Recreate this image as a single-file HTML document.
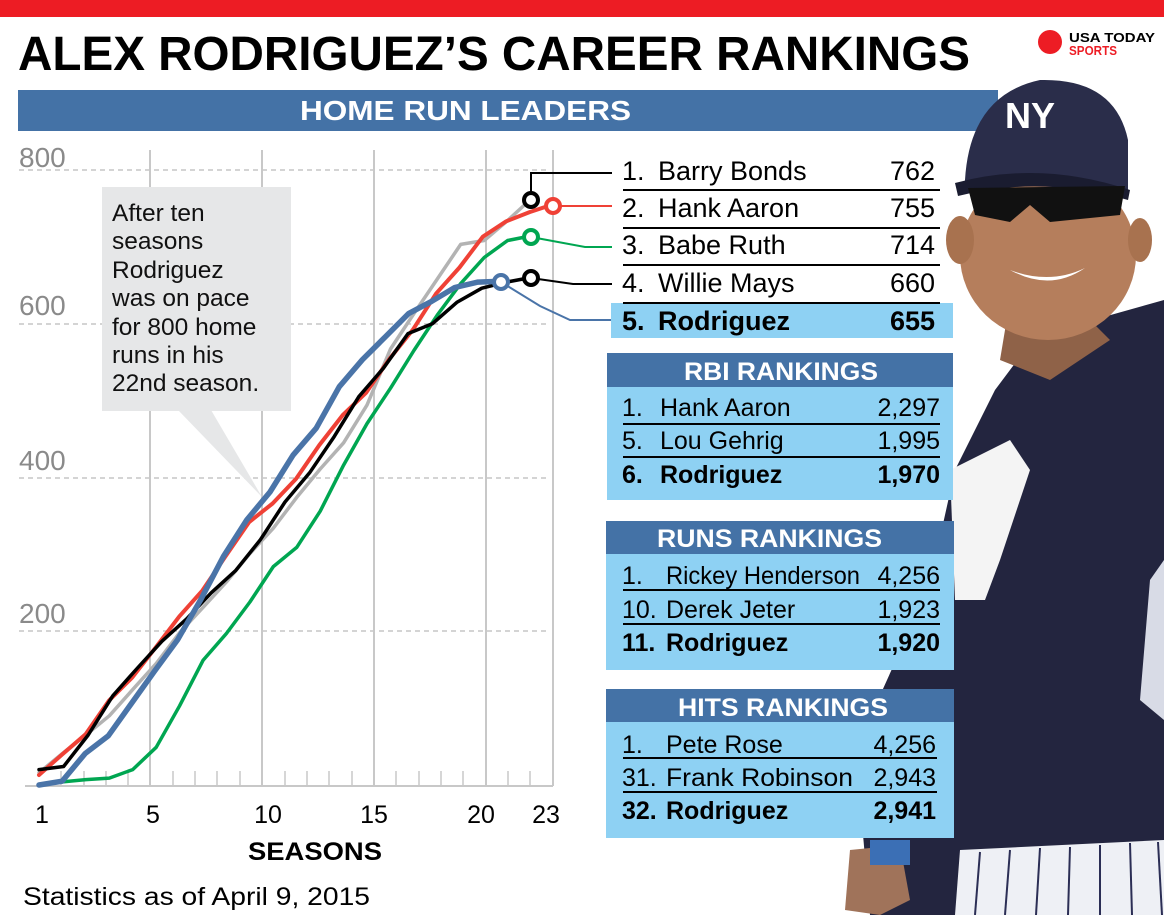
<!DOCTYPE html>
<html><head><meta charset="utf-8"><style>
html,body{margin:0;padding:0;background:#fff;}
svg{display:block;}
text{font-family:"Liberation Sans",sans-serif;}
</style></head><body>
<svg width="1164" height="915" viewBox="0 0 1164 915" xmlns="http://www.w3.org/2000/svg">
<rect x="0" y="0" width="1164" height="17" fill="#ed1c24"/>
<text x="18" y="70" font-size="48" font-weight="bold" textLength="952" lengthAdjust="spacingAndGlyphs">ALEX RODRIGUEZ’S CAREER RANKINGS</text>
<circle cx="1050" cy="42" r="12" fill="#ed1c24"/>
<text x="1069" y="42" font-size="13" font-weight="bold" textLength="86" lengthAdjust="spacingAndGlyphs">USA TODAY</text>
<text x="1069" y="55" font-size="13" font-weight="bold" fill="#ed1c24" textLength="48" lengthAdjust="spacingAndGlyphs">SPORTS</text>
<rect x="18" y="90" width="980" height="41" fill="#4472a6"/>
<text x="300" y="120" font-size="28" font-weight="bold" fill="#fff" textLength="331" lengthAdjust="spacingAndGlyphs">HOME RUN LEADERS</text>

<!-- photo approximation -->
<path d="M1164 300 L1100 318 L1040 330 L995 390 L955 470 L935 560 L905 640 L878 700 L860 800 L870 915 L1164 915 Z" fill="#23253f"/>
<path d="M960 850 L1164 840 L1164 915 L955 915 Z" fill="#eef0f5"/>
<g stroke="#2b2e55" stroke-width="2">
<line x1="980" y1="852" x2="975" y2="915"/><line x1="1010" y1="850" x2="1005" y2="915"/><line x1="1040" y1="848" x2="1036" y2="915"/><line x1="1070" y1="847" x2="1068" y2="915"/><line x1="1100" y1="845" x2="1100" y2="915"/><line x1="1130" y1="843" x2="1132" y2="915"/><line x1="1158" y1="842" x2="1162" y2="915"/></g>
<path d="M1150 580 L1164 560 L1164 720 L1140 700 Z" fill="#d8dbe6"/>
<path d="M950 470 L1010 440 L1030 470 L1000 560 L985 600 L955 600 Z" fill="#f4f4f4"/>
<path d="M850 850 L900 845 L910 900 L880 915 L845 910 Z" fill="#a0735a"/>
<rect x="870" y="840" width="40" height="25" fill="#3b6fb5"/>
<path d="M1010 300 L1080 310 L1110 340 L1050 380 L1000 360 Z" fill="#8f6248"/>
<ellipse cx="1048" cy="255" rx="88" ry="85" fill="#b57e5c"/>
<ellipse cx="960" cy="240" rx="14" ry="24" fill="#a8724f"/>
<ellipse cx="1140" cy="240" rx="12" ry="22" fill="#a8724f"/>
<path d="M965 180 Q970 95 1040 80 Q1115 78 1128 140 L1128 195 Q1050 170 963 190 Z" fill="#2a2d4a"/>
<path d="M955 183 Q1040 160 1130 190 L1128 200 Q1040 175 958 196 Z" fill="#1a1c30"/>
<text x="1005" y="128" font-size="36" font-weight="bold" fill="#fff">NY</text>
<path d="M968 188 L1125 186 L1120 215 L1050 222 L1030 205 L1010 222 L975 215 Z" fill="#111"/>
<path d="M1010 270 Q1050 285 1085 268 Q1050 292 1010 270 Z" fill="#fff"/>

<!-- chart grid -->
<g stroke="#bbb" stroke-width="1.3" stroke-dasharray="5,4">
<line x1="19" y1="170" x2="548" y2="170"/><line x1="19" y1="324" x2="548" y2="324"/>
<line x1="19" y1="478" x2="548" y2="478"/><line x1="19" y1="631" x2="548" y2="631"/></g>
<g stroke="#c8c8c8" stroke-width="2">
<line x1="150" y1="150" x2="150" y2="786"/><line x1="262" y1="150" x2="262" y2="786"/>
<line x1="374" y1="150" x2="374" y2="786"/><line x1="486" y1="150" x2="486" y2="786"/>
<line x1="553" y1="150" x2="553" y2="786"/>
<line x1="25" y1="786" x2="553" y2="786"/></g>
<g stroke="#c8c8c8" stroke-width="1.5">
<line x1="61" y1="771" x2="61" y2="786"/><line x1="84" y1="771" x2="84" y2="786"/><line x1="106" y1="771" x2="106" y2="786"/><line x1="128" y1="771" x2="128" y2="786"/>
<line x1="173" y1="771" x2="173" y2="786"/><line x1="195" y1="771" x2="195" y2="786"/><line x1="217" y1="771" x2="217" y2="786"/><line x1="240" y1="771" x2="240" y2="786"/>
<line x1="285" y1="771" x2="285" y2="786"/><line x1="307" y1="771" x2="307" y2="786"/><line x1="329" y1="771" x2="329" y2="786"/><line x1="352" y1="771" x2="352" y2="786"/>
<line x1="396" y1="771" x2="396" y2="786"/><line x1="419" y1="771" x2="419" y2="786"/><line x1="441" y1="771" x2="441" y2="786"/><line x1="463" y1="771" x2="463" y2="786"/>
<line x1="508" y1="771" x2="508" y2="786"/><line x1="530" y1="771" x2="530" y2="786"/></g>
<g font-size="28" fill="#8a8a8a">
<text x="19" y="167">800</text><text x="19" y="315">600</text><text x="19" y="470">400</text><text x="19" y="623">200</text></g>

<!-- callout -->
<rect x="102" y="187" width="189" height="224" fill="#e6e7e8"/>
<polygon points="178,410 211,410 262,497" fill="#e6e7e8"/>
<g font-size="24.5" fill="#111">
<text x="112" y="221">After ten</text><text x="112" y="249">seasons</text><text x="112" y="278">Rodriguez</text>
<text x="112" y="306">was on pace</text><text x="112" y="335">for 800 home</text><text x="112" y="363">runs in his</text>
<text x="112" y="391">22nd season.</text></g>

<!-- connectors -->
<g fill="none" stroke-width="2">
<polyline points="531,200 531,173 612,173" stroke="#000"/>
<polyline points="553,206 612,206" stroke="#ef4136"/>
<polyline points="531,237 585,247 612,247" stroke="#00a651"/>
<polyline points="531,278 573,284 612,284" stroke="#000"/>
<polyline points="501,282 540,306 570,320 612,320" stroke="#4a74a8"/>
</g>

<!-- series -->
<g fill="none" stroke-linejoin="round" stroke-linecap="round">
<polyline stroke="#b3b3b3" stroke-width="3.5" points="39,772.7 62.4,753.5 85.9,735 109.3,715.8 132.7,689.6 156.2,663.5 179.6,632.7 203,607.4 226.4,582 249.9,553.5 273.3,528.2 296.7,497.4 320.2,469 343.6,442.8 367,405.1 390.5,349 413.9,313.6 437.3,279 460.7,244.4 484.2,240.5 507.6,220.5 531,199"/>
<polyline stroke="#00a651" stroke-width="3.5" points="39,785 62.4,781.9 85.9,779.6 109.3,778.1 132.7,769.6 156.2,747.3 179.6,705.8 203,660.4 226.4,633.5 249.9,602 273.3,566.6 296.7,547.4 320.2,511.2 343.6,465.1 367,423.6 390.5,388.2 413.9,350.5 437.3,315.1 460.7,283.6 484.2,257.5 507.6,240.5 531,235.9"/>
<polyline stroke="#ef4136" stroke-width="4" points="39,775 62.4,754.2 85.7,734.2 109.1,700.4 132.4,677.3 155.8,647.3 179.2,616.6 202.5,590.4 225.9,555.8 249.2,522 272.6,503.5 296,478.9 319.3,445.1 342.7,415.1 366,392.8 389.4,359 412.8,329.8 436.1,293.6 459.5,267.5 482.8,236.7 506.2,221.3 529.6,212.1 553,204.4"/>
<polyline stroke="#000" stroke-width="3.5" points="39,769.6 63.6,766.5 88.2,735 112.8,695.8 137.4,668.1 162,641.2 186.6,618.9 211.2,592.8 235.8,570.4 260.4,539.7 285,502 309.6,472.8 334.2,436.6 358.8,396.7 383.4,368.2 408,333.6 432.6,323.6 457.2,302.1 481.8,288.2 506.4,282.1 531,277.5"/>
<polyline stroke="#4a74a8" stroke-width="5.5" points="39,785 62.1,781.2 85.2,753.5 108.3,735.8 131.4,703.5 154.5,671.2 177.6,639.7 200.7,599.7 223.8,555.8 246.9,519.7 270,492 293.1,455.1 316.2,428.2 339.3,386.7 362.4,359.7 385.5,336.7 408.6,313.6 431.7,301.3 454.8,287.5 477.9,282.1 501,281.3"/>
</g>
<g fill="#fff" stroke-width="4">
<circle cx="531" cy="200" r="7" stroke="#000"/>
<circle cx="553" cy="206" r="7" stroke="#ef4136"/>
<circle cx="531" cy="237" r="7" stroke="#00a651"/>
<circle cx="531" cy="278" r="7" stroke="#000"/>
<circle cx="501" cy="282" r="7" stroke="#4a74a8"/>
</g>

<g font-size="25" fill="#000" text-anchor="middle">
<text x="42" y="823">1</text><text x="153" y="823">5</text><text x="268" y="823">10</text>
<text x="374" y="823">15</text><text x="481" y="823">20</text><text x="546" y="823">23</text></g>
<text x="248" y="860" font-size="25" font-weight="bold" textLength="134" lengthAdjust="spacingAndGlyphs">SEASONS</text>
<text x="23" y="905" font-size="25" textLength="347" lengthAdjust="spacingAndGlyphs">Statistics as of April 9, 2015</text>

<!-- HR table -->
<rect x="611" y="303" width="342" height="35" fill="#8ed1f3"/>
<g stroke="#000" stroke-width="2">
<line x1="623" y1="190" x2="940" y2="190"/><line x1="623" y1="228" x2="940" y2="228"/>
<line x1="623" y1="265" x2="940" y2="265"/><line x1="623" y1="303" x2="940" y2="303"/></g>
<g font-size="27" fill="#000">
<text x="622" y="180">1.</text><text x="658" y="180">Barry Bonds</text><text x="935" y="180" text-anchor="end">762</text>
<text x="622" y="217">2.</text><text x="658" y="217">Hank Aaron</text><text x="935" y="217" text-anchor="end">755</text>
<text x="622" y="254">3.</text><text x="658" y="254">Babe Ruth</text><text x="935" y="254" text-anchor="end">714</text>
<text x="622" y="292">4.</text><text x="658" y="292">Willie Mays</text><text x="935" y="292" text-anchor="end">660</text>
<g font-weight="bold"><text x="622" y="330">5.</text><text x="658" y="330">Rodriguez</text><text x="935" y="330" text-anchor="end">655</text></g></g>

<!-- RBI -->
<rect x="607" y="353" width="346" height="147" fill="#8ed1f3"/>
<rect x="607" y="353" width="346" height="34" fill="#4472a6"/>
<text x="684" y="380" font-size="25" font-weight="bold" fill="#fff" textLength="194" lengthAdjust="spacingAndGlyphs">RBI RANKINGS</text>
<g stroke="#000" stroke-width="2"><line x1="623" y1="424" x2="940" y2="424"/><line x1="623" y1="457" x2="940" y2="457"/></g>
<g font-size="25" fill="#000">
<text x="622" y="416">1.</text><text x="660" y="416">Hank Aaron</text><text x="940" y="416" text-anchor="end">2,297</text>
<text x="622" y="449">5.</text><text x="660" y="449">Lou Gehrig</text><text x="940" y="449" text-anchor="end">1,995</text>
<g font-weight="bold"><text x="622" y="483">6.</text><text x="660" y="483">Rodriguez</text><text x="940" y="483" text-anchor="end">1,970</text></g></g>

<!-- RUNS -->
<rect x="606" y="521" width="348" height="149" fill="#8ed1f3"/>
<rect x="606" y="521" width="348" height="33" fill="#4472a6"/>
<text x="657" y="547" font-size="25" font-weight="bold" fill="#fff" textLength="225" lengthAdjust="spacingAndGlyphs">RUNS RANKINGS</text>
<g stroke="#000" stroke-width="2"><line x1="623" y1="590" x2="940" y2="590"/><line x1="623" y1="624" x2="940" y2="624"/></g>
<g font-size="25" fill="#000">
<text x="622" y="584">1.</text><text x="666" y="584" textLength="194" lengthAdjust="spacingAndGlyphs">Rickey Henderson</text><text x="940" y="584" text-anchor="end">4,256</text>
<text x="622" y="618">10.</text><text x="666" y="618">Derek Jeter</text><text x="940" y="618" text-anchor="end">1,923</text>
<g font-weight="bold"><text x="622" y="651">11.</text><text x="666" y="651">Rodriguez</text><text x="940" y="651" text-anchor="end">1,920</text></g></g>

<!-- HITS -->
<rect x="606" y="689" width="348" height="149" fill="#8ed1f3"/>
<rect x="606" y="689" width="348" height="33" fill="#4472a6"/>
<text x="678" y="716" font-size="25" font-weight="bold" fill="#fff" textLength="210" lengthAdjust="spacingAndGlyphs">HITS RANKINGS</text>
<g stroke="#000" stroke-width="2"><line x1="623" y1="758" x2="937" y2="758"/><line x1="623" y1="792" x2="937" y2="792"/></g>
<g font-size="25" fill="#000">
<text x="622" y="753">1.</text><text x="666" y="753">Pete Rose</text><text x="936" y="753" text-anchor="end">4,256</text>
<text x="622" y="786">31.</text><text x="666" y="786" textLength="187" lengthAdjust="spacingAndGlyphs">Frank Robinson</text><text x="936" y="786" text-anchor="end">2,943</text>
<g font-weight="bold"><text x="622" y="819">32.</text><text x="666" y="819">Rodriguez</text><text x="936" y="819" text-anchor="end">2,941</text></g></g>
</svg>
</body></html>
